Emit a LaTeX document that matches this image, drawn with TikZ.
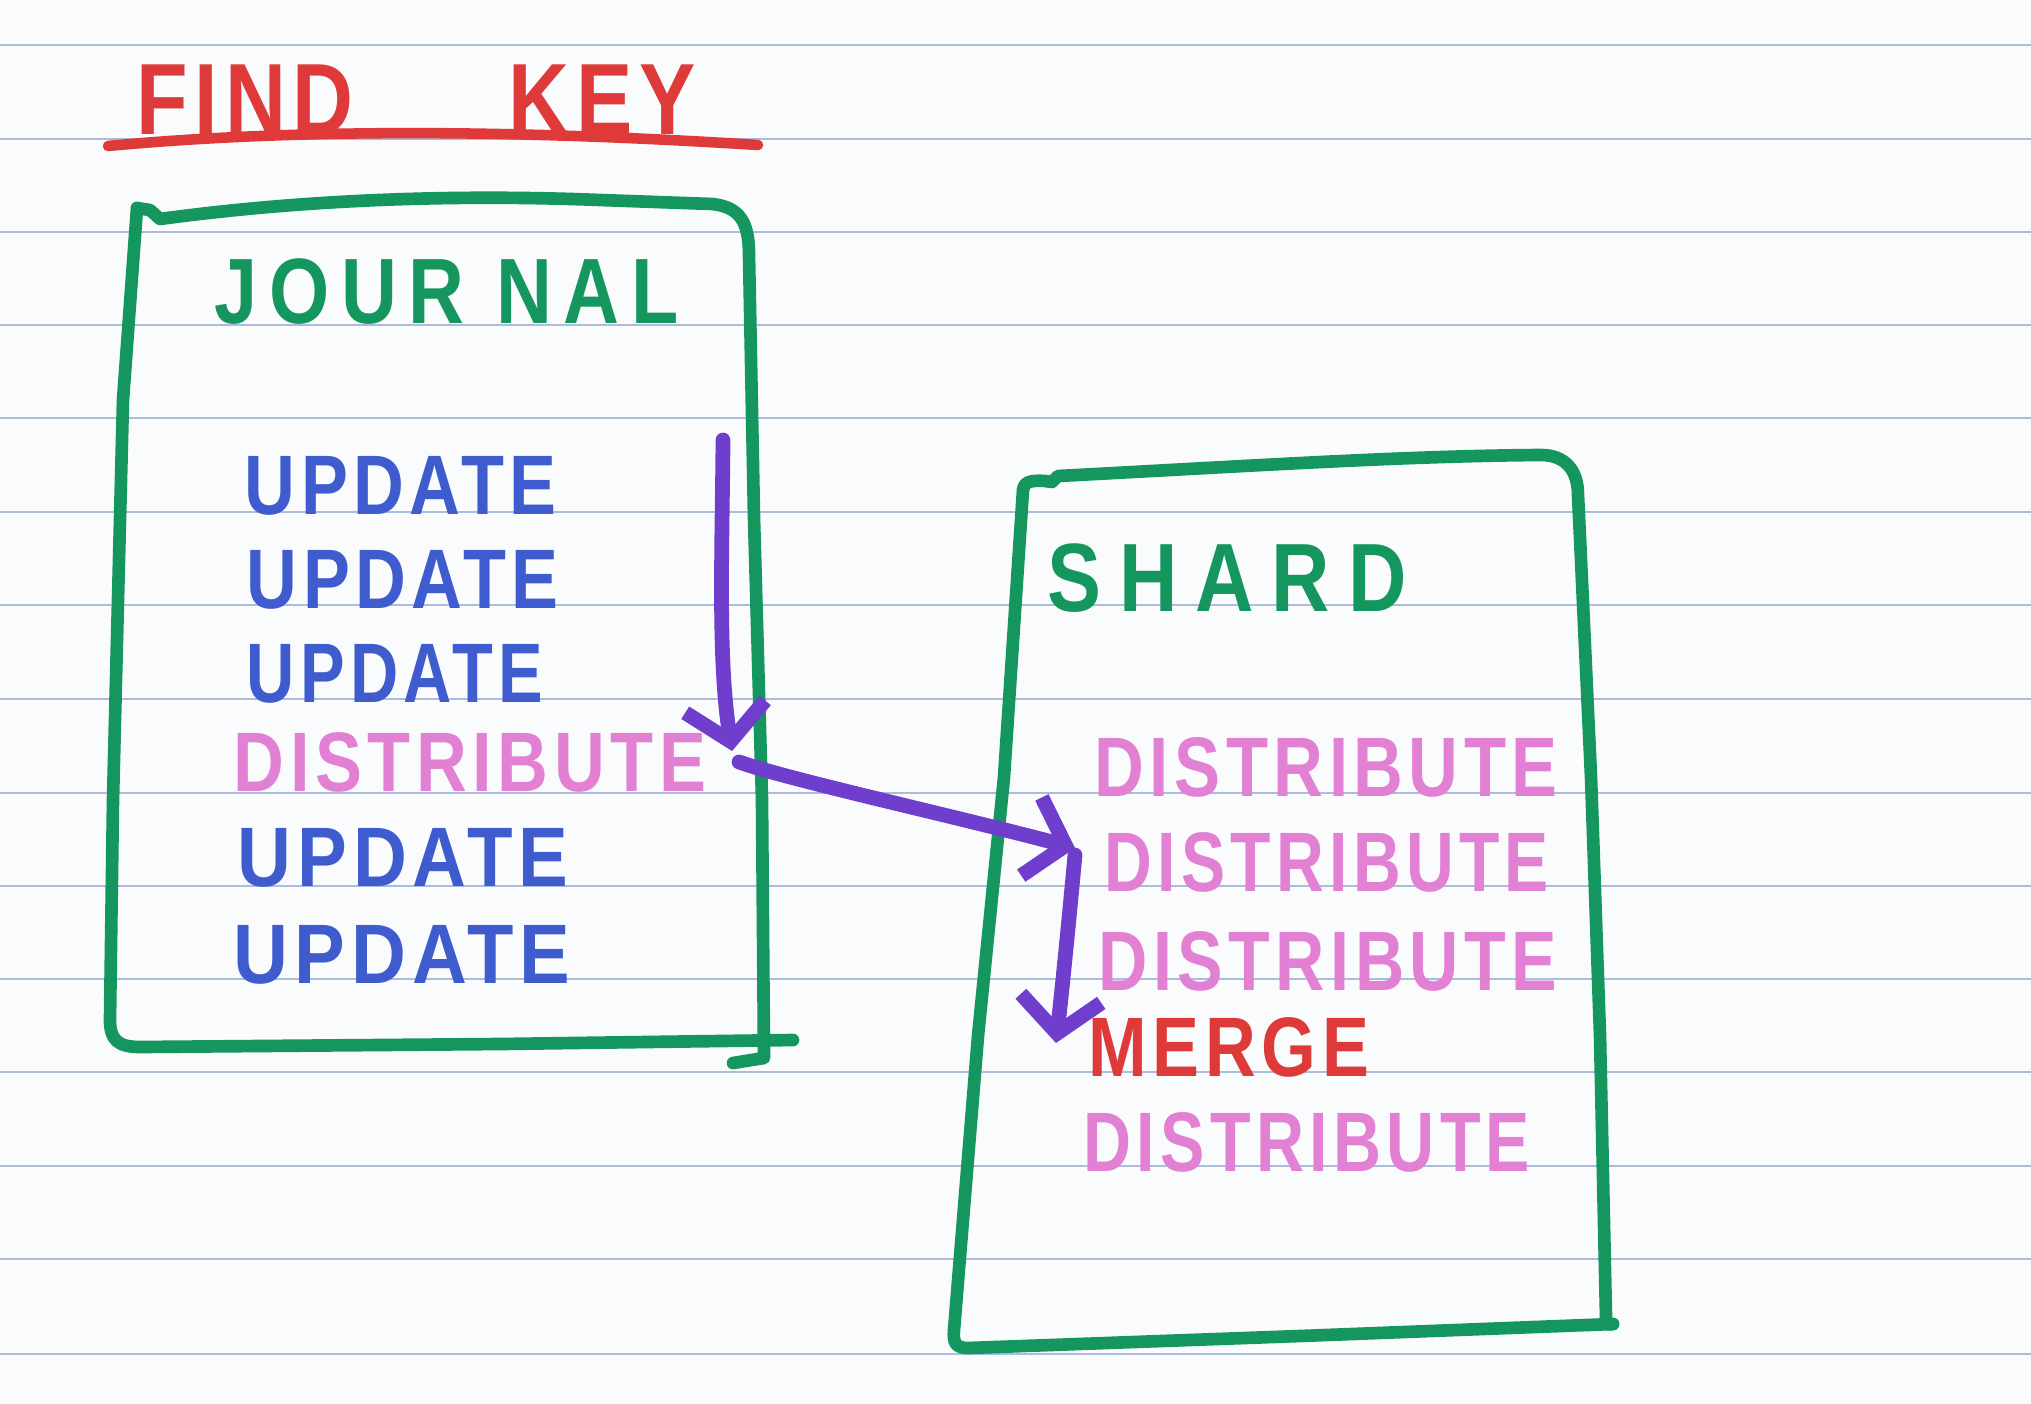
\documentclass[tikz,border=0pt]{standalone}
\usepackage{fontspec}
\usepackage{graphicx}
\setmainfont{Liberation Sans}
\newfontfamily\handA{Liberation Sans}[LetterSpace=8]
\newfontfamily\handB{Liberation Sans}[LetterSpace=15]
\newfontfamily\handC{Liberation Sans}[LetterSpace=22]
\usetikzlibrary{arrows.meta,calc}
\definecolor{penred}{RGB}{222,58,58}
\definecolor{pengreen}{RGB}{22,150,95}
\definecolor{penblue}{RGB}{62,92,205}
\definecolor{penpink}{RGB}{226,128,212}
\definecolor{penpurple}{RGB}{112,62,205}
\definecolor{ruling}{RGB}{172,188,220}
\definecolor{paper}{RGB}{250,251,253}
\newcommand\myitemfont{\handA\bfseries\fontsize{20pt}{24pt}\selectfont}
\newcommand\myheadfont{\handB\bfseries\fontsize{22pt}{26pt}\selectfont}
\newcommand\myshardfont{\handC\bfseries\fontsize{23pt}{27pt}\selectfont}
\newcommand\mytitlefont{\handA\bfseries\fontsize{24pt}{28pt}\selectfont}
\newcommand\hw[2]{\scalebox{#1}[1.2]{#2}}
\begin{document}
\begin{tikzpicture}[x=0.01cm,y=-0.01cm,
  box/.style={draw=pengreen, line width=3.6pt, line cap=round, line join=round},
  rule/.style={draw=ruling, line width=0.6pt},
  underl/.style={draw=penred, line width=3pt, line cap=round},
  conn/.style={draw=penpurple, line width=4.2pt, line cap=round, line join=round,
    -{Straight Barb[length=10pt,width=23pt]}},
  itm/.style={anchor=west, inner sep=0pt, font=\myitemfont},
  upd/.style={itm, text=penblue},
  dis/.style={itm, text=penpink},
  mrg/.style={itm, text=penred},
  head/.style={anchor=west, inner sep=0pt, text=pengreen}
]
% paper
\fill[paper] (0,0) rectangle (2031,1403);
\useasboundingbox (0,0) rectangle (2031,1403);
\foreach \yy in {45,139,232,325,418,512,605,699,793,886,979,1072,1166,1259,1354}
  \draw[rule] (0,\yy) -- (2031,\yy);

% title
\node[anchor=west, inner sep=0pt, text=penred, font=\mytitlefont] (title) at (136,100) {\hw{1}{FIND\hspace{44pt}KEY}};
\draw[underl] (108,146) .. controls (300,128) and (520,130) .. (758,145);

% journal box
\draw[box] (137,208) -- (150,210) -- (160,219) .. controls (300,200) and (450,194) .. (600,200)
  -- (712,204) .. controls (740,207) and (749,222) .. (749,255) -- (754,518) -- (762,800)
  -- (764,1058) -- (733,1063);
\draw[box] (137,208) -- (123,400) -- (113,800) -- (110,1020)
  .. controls (110,1040) and (118,1047) .. (140,1047) -- (500,1044) -- (793,1040);

% shard box
\draw[box] (1023,490) .. controls (1024,482) and (1030,480) .. (1045,481) -- (1052,482) -- (1058,476)
  .. controls (1250,466) and (1400,456) .. (1541,455)
  .. controls (1565,455) and (1578,470) .. (1578,495) -- (1591,777) -- (1600,1036) -- (1606,1318)
  .. controls (1606,1325) and (1608,1325) .. (1613,1324);
\draw[box] (1023,490) -- (1004,777) -- (978,1036) -- (954,1330)
  .. controls (953,1342) and (955,1348) .. (968,1348) -- (1300,1336) -- (1613,1324);

% headings
\node[head, font=\myheadfont] (jh) at (214,292) {\hw{1}{JOUR\hspace{9pt}NAL}};
\node[head, font=\myshardfont] (sh) at (1047,578) {\hw{1}{SHARD}};

% journal entries
\node[upd] (j1) at (244,486) {\hw{1.0}{UPDATE}};
\node[upd] (j2) at (246,580) {\hw{1.0}{UPDATE}};
\node[upd] (j3) at (246,674) {\hw{0.95}{UPDATE}};
\node[dis] (j4) at (233,762) {\hw{1.0}{DISTRIBUTE}};
\node[upd] (j5) at (237,858) {\hw{1.06}{UPDATE}};
\node[upd] (j6) at (233,955) {\hw{1.08}{UPDATE}};

% shard entries
\node[dis] (s1) at (1094,767) {\hw{0.98}{DISTRIBUTE}};
\node[dis] (s2) at (1104,862) {\hw{0.94}{DISTRIBUTE}};
\node[dis] (s3) at (1098,961) {\hw{0.97}{DISTRIBUTE}};
\node[mrg] (m)  at (1088,1047) {\hw{1.0}{MERGE}};
\node[dis] (s5) at (1083,1142) {\hw{0.945}{DISTRIBUTE}};

% connectors
\coordinate (jtop) at (723,440);
\coordinate (jtip) at ($(j4.east)+(25,-11)$);
\coordinate (a2s) at ($(j4.east)+(32,0)$);
\coordinate (a2e) at ($(s2.west)+(-29,-14)$);
\coordinate (a3s) at ($(s2.west)+(-29,-7)$);
\coordinate (a3e) at ($(m.west)+(-32,-4)$);
\draw[conn] (jtop) .. controls (722,560) and (718,660) .. (jtip);
\draw[conn] (a2s) .. controls (790,780) and (950,815) .. (a2e);
\draw[conn] (a3s) .. controls (1068,930) and (1062,990) .. (a3e);
\end{tikzpicture}
\end{document}
